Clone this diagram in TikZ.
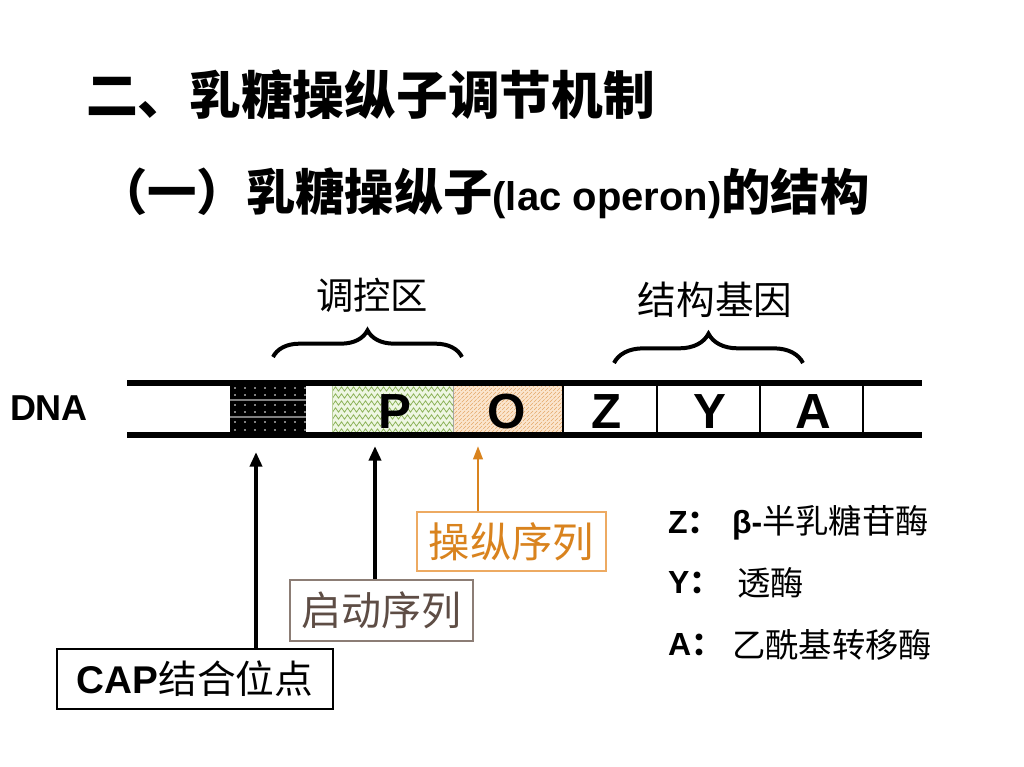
\documentclass[tikz,border=0pt]{standalone}
\usepackage{fontspec}
\setmainfont{Liberation Sans}
\newfontfamily\cjk{Noto Sans CJK SC}
\usetikzlibrary{arrows.meta,decorations.pathreplacing,decorations.pathmorphing}
\definecolor{pfill}{HTML}{EEF6E2}
\definecolor{pgreen}{HTML}{8DB35A}
\definecolor{ofill}{HTML}{FBE6CF}
\definecolor{ohatch}{HTML}{E3A869}
\definecolor{orangetxt}{HTML}{D9831E}
\definecolor{orangebd}{HTML}{EDAA62}
\definecolor{promtxt}{HTML}{5E4D45}
\definecolor{prombd}{HTML}{8C7D75}
\tikzset{
  txt/.style={inner sep=0pt, outer sep=0pt},
  dnaline/.style={line width=4.5pt},
  divider/.style={line width=1.8pt},
  bracestyle/.style={line width=3pt, decorate},
  genel/.style={txt, font=\fontsize{37pt}{40pt}\selectfont\bfseries},
  labelbox/.style={draw, line width=1.1pt, inner sep=0pt},
  bigarrow/.style={line width=3pt, -{Triangle[width=9pt,length=11pt]}},
  orarrow/.style={line width=2pt, orangetxt, -{Triangle[width=7pt,length=10pt]}},
  legl/.style={txt, anchor=west, font=\fontsize{24pt}{26pt}\selectfont\bfseries},
  legc/.style={txt, anchor=west, font=\fontsize{25pt}{28pt}\selectfont\cjk},
}
\begin{document}
\begin{tikzpicture}[x=0.75pt,y=-0.75pt]
\useasboundingbox (0,0) rectangle (1024,767);
\fill[white] (0,0) rectangle (1024,767);

% titles
\node[txt, anchor=west] (title) at (86,95) {\fontsize{38.8pt}{42pt}\selectfont\cjk\bfseries 二、乳糖操纵子调节机制};
\node[txt, anchor=west] (subtitle) at (98,193) {\fontsize{37pt}{40pt}\selectfont\cjk\bfseries （一）乳糖操纵子{\fontsize{30pt}{34pt}\selectfont\rmfamily\bfseries (lac operon)}的结构};

% region labels and braces
\node[txt, font=\fontsize{28pt}{30pt}\selectfont\cjk] (reglab) at (372,295) {调控区};
\node[txt, font=\fontsize{29pt}{30pt}\selectfont\cjk] (strlab) at (715,300) {结构基因};
\draw[bracestyle, decoration={brace, amplitude=20pt}] (273,357) -- (462,357);
\draw[bracestyle, decoration={brace, amplitude=22pt}] (614,363) -- (803,363);

% DNA label
\node[txt, anchor=west, font=\fontsize{27pt}{30pt}\selectfont\bfseries] (dnalab) at (10,408) {DNA};

% CAP site box
\fill[black] (230,384) rectangle (306,434);
\foreach \xx in {235,245,...,305} {
  \foreach \yy in {388,395,405,412,422,430} {
    \fill[white] (\xx,\yy) circle (0.65pt);
  }
}
\draw[gray, line width=1pt] (230,400) -- (306,400);
\draw[gray, line width=1pt] (230,417) -- (306,417);

% P box
\begin{scope}
\clip (332,384) rectangle (453,434);
\fill[pfill] (332,384) rectangle (453,434);
\foreach \yy in {389,396,...,434} {
  \draw[pgreen, line width=0.6pt, decorate, decoration={zigzag, segment length=4.5pt, amplitude=1.6pt}] (328,\yy) -- (458,\yy);
}
\end{scope}
\draw[pgreen!60, line width=0.6pt] (332,384) rectangle (453,434);

% O box
\begin{scope}
\clip (453,384) rectangle (563,434);
\fill[ofill] (453,384) rectangle (563,434);
\foreach \k in {0,4,...,170} {
  \draw[ohatch, line width=0.5pt, dash pattern=on 3pt off 1pt] (400+\k,440) -- ++(60,-60);
}
\end{scope}
\draw[gray!70, line width=0.6pt] (453,384) -- (453,434);

% DNA strands
\draw[dnaline] (127,383) -- (922,383);
\draw[dnaline] (127,435) -- (922,435);
\foreach \xx in {563,657,760,863} {
  \draw[divider] (\xx,383) -- (\xx,435);
}

% gene letters
\node[genel] (P) at (395,412) {P};
\node[genel] (O) at (507,412) {O};
\node[genel] (Z) at (607,412) {Z};
\node[genel] (Y) at (710,412) {Y};
\node[genel] (A) at (813,412) {A};

% label boxes
\node[labelbox, black, minimum width=207pt, minimum height=45pt] (capbox) at (195,679)
  {\fontsize{29pt}{32pt}\selectfont\bfseries CAP\cjk\mdseries 结合位点};
\node[labelbox, draw=prombd, text=promtxt, minimum width=137pt, minimum height=46pt] (prombox) at (381.5,610.5)
  {\fontsize{30pt}{32pt}\selectfont\cjk 启动序列};
\node[labelbox, draw=orangebd, text=orangetxt, minimum width=142pt, minimum height=44pt] (opbox) at (511.5,541.5)
  {\fontsize{31pt}{33pt}\selectfont\cjk 操纵序列};

% arrow targets
\coordinate (capt) at (256,452);
\coordinate (promt) at (375,446);
\coordinate (opt) at (478,446);
\draw[bigarrow] (capt |- capbox.north) -- (capt);
\draw[bigarrow] (promt |- prombox.north) -- (promt);
\draw[orarrow] (opt |- opbox.north) -- (opt);

% legend
\node[legl] (lz) at (668,523) {Z{\cjk：}};
\node[legc] (tz) at (732,523) {{\fontsize{24pt}{26pt}\selectfont\rmfamily\bfseries β-}半乳糖苷酶};
\node[legl] (ly) at (668,583) {Y{\cjk：}};
\node[legc] (ty) at (737,583) {透酶};
\node[legl] (la) at (668,645) {A{\cjk：}};
\node[legc] (ta) at (732,645) {乙酰基转移酶};
\end{tikzpicture}
\end{document}
